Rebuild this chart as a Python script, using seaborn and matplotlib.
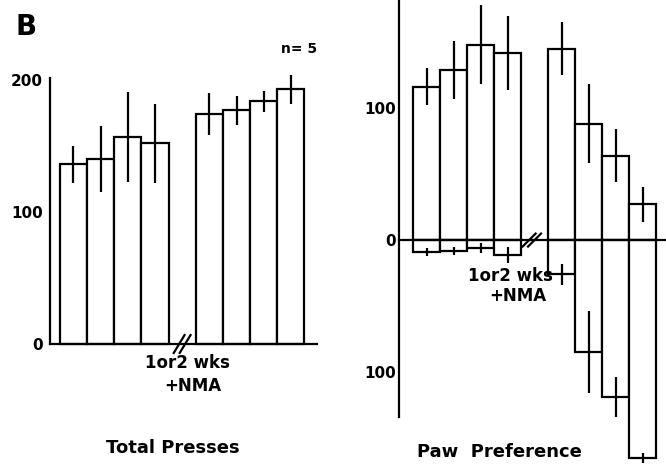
import numpy as np
import pandas as pd
import seaborn as sns
import matplotlib
matplotlib.use("Agg")
import matplotlib.pyplot as plt
from matplotlib.ticker import FixedLocator, FixedFormatter

# Total lever presses per session (mean +/- SEM), before and after NMA
presses_pre = [136, 140, 157, 152]
presses_pre_sem = [14, 25, 34, 30]
presses_nma = [174, 177, 184, 193]
presses_nma_sem = [16, 11, 8, 11]

# Paw preference: presses with preferred paw (up) and other paw (down)
paw_up_pre = [116, 129, 148, 142]
paw_up_pre_sem = [14, 22, 30, 28]
paw_up_nma = [145, 88, 64, 27]
paw_up_nma_sem = [20, 30, 20, 13]
paw_down_pre = [9, 8, 6, 11]
paw_down_pre_sem = [3, 3, 4, 6]
paw_down_nma = [26, 85, 119, 165]
paw_down_nma_sem = [8, 31, 15, 4]

left_ticks = [0, 100, 200]
left_ticklabels = ["0", "100", "200"]
right_ticks = [-100, 0, 100]
right_ticklabels = ["100", "0", "100"]
break_label = ["1or2 wks", "+NMA"]
n_label = "n= 5"
panel_letter = "B"
titles = ["Total Presses", "Paw  Preference"]

sns.set_theme(style="white")
plt.rcParams["font.family"] = ["DejaVu Sans"]
plt.rcParams["font.weight"] = "bold"

W, H = 666, 468
fig = plt.figure(figsize=(W / 100, H / 100), dpi=100)
fig.patch.set_facecolor("white")


def px_axes(x0, y_top, x1, y_bottom):
    return fig.add_axes([x0 / W, 1 - y_bottom / H, (x1 - x0) / W, (y_bottom - y_top) / H])


# bar positions: 4 sessions, one empty slot for the break, 4 sessions
n_pre = len(presses_pre)
pos = np.r_[np.arange(n_pre), np.arange(len(presses_nma)) + n_pre + 1].astype(float)

LW = 1.6


def bars(ax, values, sems):
    df = pd.DataFrame({"pos": pos, "val": values})
    before = len(ax.patches)
    sns.barplot(data=df, x="pos", y="val", native_scale=True, width=1.0,
                color="white", edgecolor="black", linewidth=LW,
                errorbar=None, ax=ax)
    for p in ax.patches[before:]:
        p.set_clip_on(False)
        p.set_facecolor("white")
    vals = np.asarray(values, float)
    s = np.asarray(sems, float)
    ax.vlines(pos, vals - s, vals + s, color="black", lw=LW, clip_on=False)


def break_marks(ax, xc, dx, dy, sep):
    for off in (-sep / 2, sep / 2):
        ax.plot([xc + off - dx, xc + off + dx], [-dy, dy], color="black",
                lw=LW, clip_on=False, solid_capstyle="butt")


# ---- Total presses ----
ax1 = px_axes(50, 78, 317, 344)
bars(ax1, presses_pre + presses_nma, presses_pre_sem + presses_nma_sem)
ax1.set_xlim(-0.86, 8.96)
ax1.set_ylim(0, 201.5)
break_marks(ax1, 4.0, 0.22, 7.5, 0.22)

# ---- Paw preference ----
ax2 = px_axes(399, 0, 666, 417)
bars(ax2, paw_up_pre + paw_up_nma, paw_up_pre_sem + paw_up_nma_sem)
bars(ax2, [-v for v in paw_down_pre + paw_down_nma], paw_down_pre_sem + paw_down_nma_sem)
ax2.set_xlim(-1.02, 8.87)
ax2.set_ylim(-134, 181.8)
ax2.spines["bottom"].set_position(("data", 0))
break_marks(ax2, 3.9, 0.27, 5.5, 0.2)

for ax, ticks, labels, pad in ((ax1, left_ticks, left_ticklabels, 5),
                               (ax2, right_ticks, right_ticklabels, 2)):
    ax.set_facecolor("white")
    ax.set_xlabel("")
    ax.set_ylabel("")
    ax.set_xticks([])
    ax.yaxis.set_major_locator(FixedLocator(ticks))
    ax.yaxis.set_major_formatter(FixedFormatter(labels))
    ax.tick_params(axis="y", length=0, pad=pad, labelsize=11, labelcolor="black")
    for lab in ax.get_yticklabels():
        lab.set_fontweight("bold")
    for side in ("top", "right"):
        ax.spines[side].set_visible(False)
    for side in ("left", "bottom"):
        ax.spines[side].set_color("black")
        ax.spines[side].set_linewidth(LW)
    ax.grid(False)


def ftext(x, y, s, size, ha="center"):
    fig.text(x / W, 1 - y / H, s, ha=ha, va="center", fontsize=size,
             fontweight="bold", color="black")


ftext(15, 27, panel_letter, 20, ha="left")
ftext(299, 49, n_label, 10)
ftext(187, 363, break_label[0], 12)
ftext(193, 386, break_label[1], 12)
ftext(510, 276, break_label[0], 12)
ftext(518, 296, break_label[1], 12)
ftext(173, 448, titles[0], 13)
ftext(499, 452, titles[1], 13)

fig.savefig("out.png", dpi=100, facecolor="white")
